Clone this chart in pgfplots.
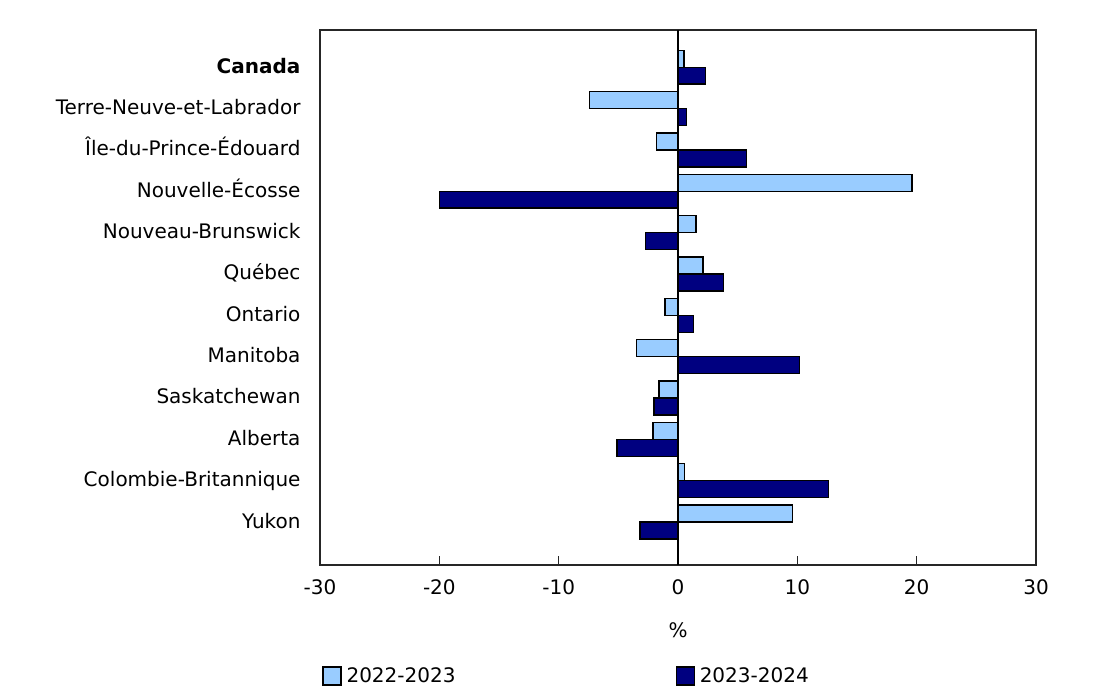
\documentclass[border=0pt]{standalone}
\usepackage{pgfplots}
\pgfplotsset{compat=1.18}
\usepackage{fontspec}
\setmainfont{DejaVu Sans}
\definecolor{light}{HTML}{99CCFF}
\definecolor{dark}{HTML}{000080}
\begin{document}
\begin{tikzpicture}
\path (0,0) rectangle (1113pt,692pt);
\begin{axis}[
  at={(320pt,127pt)}, anchor=south west,
  width=716pt, height=535pt, scale only axis,
  xbar, bar width=0.41,
  xmin=-30, xmax=30, ymin=-0.9, ymax=12.04, y dir=reverse,
  xtick={-30,-20,...,30}, xtick pos=bottom, tick align=inside,
  major tick length=9pt,
  ytick={0,...,11}, ytick style={draw=none},
  yticklabels={\textbf{Canada},Terre-Neuve-et-Labrador,Île-du-Prince-Édouard,Nouvelle-Écosse,Nouveau-Brunswick,Québec,Ontario,Manitoba,Saskatchewan,Alberta,Colombie-Britannique,Yukon},
  axis line style={line width=1.4pt, draw=black!85},
  every tick/.style={line width=1.4pt, black!85},
  /pgf/number format/assume math mode=true,
  ticklabel style={font=\fontsize{20}{24}\selectfont},
  yticklabel style={anchor=base east, xshift=-16pt, yshift=-6pt},
  xticklabel style={yshift=-11pt},
  xlabel={\%}, xlabel style={at={(axis description cs:0.5,-0.1215)}, anchor=center, font=\fontsize{20}{24}\selectfont},
  legend columns=2,
  legend style={at={(axis description cs:0.003,-0.2075)}, anchor=west, draw=none, fill=none,
    font=\fontsize{20}{24}\selectfont, inner sep=0pt,
    /tikz/every odd column/.append style={column sep=3pt},
    /tikz/every even column/.append style={column sep=218pt}},
  legend image code/.code={\draw[#1, line width=1.2pt] (0pt,-9pt) rectangle (18pt,9pt);},
]
\addplot[fill=light, draw=black, line width=1.4pt, bar shift=-0.205] coordinates {
(0.5,0) (-7.4,1) (-1.8,2) (19.6,3) (1.5,4) (2.1,5) (-1.1,6) (-3.5,7) (-1.6,8) (-2.1,9) (0.55,10) (9.6,11)};
\addplot[fill=dark, draw=black, line width=1.4pt, bar shift=0.205] coordinates {
(2.3,0) (0.7,1) (5.75,2) (-20.0,3) (-2.7,4) (3.8,5) (1.3,6) (10.2,7) (-2.0,8) (-5.1,9) (12.6,10) (-3.2,11)};
\legend{2022-2023,2023-2024}
\draw[line width=1.4pt] (axis cs:0,-0.9) -- (axis cs:0,12.04);
\end{axis}
\end{tikzpicture}
\end{document}
